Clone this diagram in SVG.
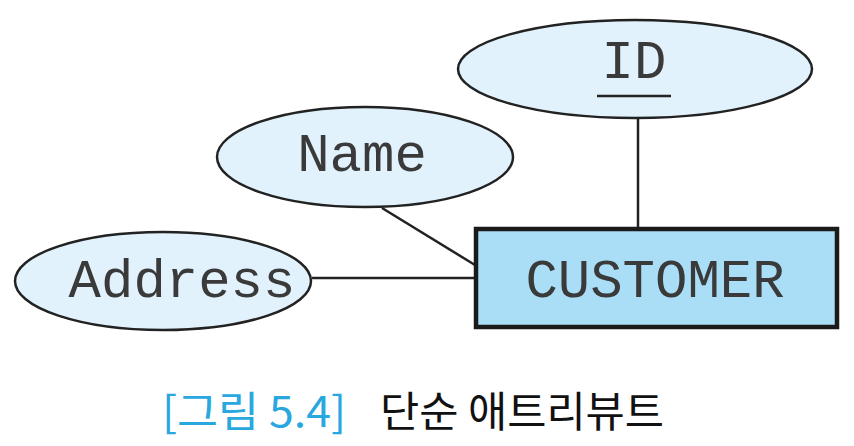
<svg xmlns="http://www.w3.org/2000/svg" width="854" height="446" viewBox="0 0 854 446">
<style>
.attr{fill:#e1f2fc;stroke:#222;stroke-width:2.5}
.ent{fill:#a9def6;stroke:#1a1a1a;stroke-width:4.5}
.lbl{font-family:"Liberation Mono","Courier New",monospace;font-size:54px;fill:#3a3a3a}
.conn line{stroke:#222;stroke-width:2.5}
.cap{font-family:"Noto Sans CJK KR","Noto Sans",sans-serif;font-size:42px}
</style>
<rect width="854" height="446" fill="#fff"/>
<g class="conn" id="connectors">
<line x1="638" y1="118" x2="638" y2="229"/>
<line x1="382" y1="208" x2="475" y2="265"/>
<line x1="312" y1="278" x2="475" y2="278"/>
</g>
<g id="ID">
<ellipse class="attr" cx="635" cy="69" rx="177" ry="49"/>
<text class="lbl" x="634" y="78" text-anchor="middle">ID</text>
<line x1="597" y1="96" x2="671" y2="96" stroke="#222" stroke-width="2.5"/>
</g>
<g id="Name">
<ellipse class="attr" cx="365" cy="157" rx="148" ry="50"/>
<text class="lbl" x="362" y="171" text-anchor="middle">Name</text>
</g>
<g id="Address">
<ellipse class="attr" cx="163" cy="281" rx="148" ry="49"/>
<text class="lbl" x="182" y="297" text-anchor="middle">Address</text>
</g>
<g id="CUSTOMER">
<rect class="ent" x="476" y="229" width="361" height="98"/>
<text class="lbl" x="655" y="297" text-anchor="middle">CUSTOMER</text>
</g>
<g id="caption">
<text class="cap" x="162" y="427" fill="#29a8e0" textLength="184" lengthAdjust="spacingAndGlyphs">[그림 5.4]</text>
<text class="cap" x="380" y="427" fill="#111" textLength="284" lengthAdjust="spacingAndGlyphs">단순 애트리뷰트</text>
</g>
</svg>
